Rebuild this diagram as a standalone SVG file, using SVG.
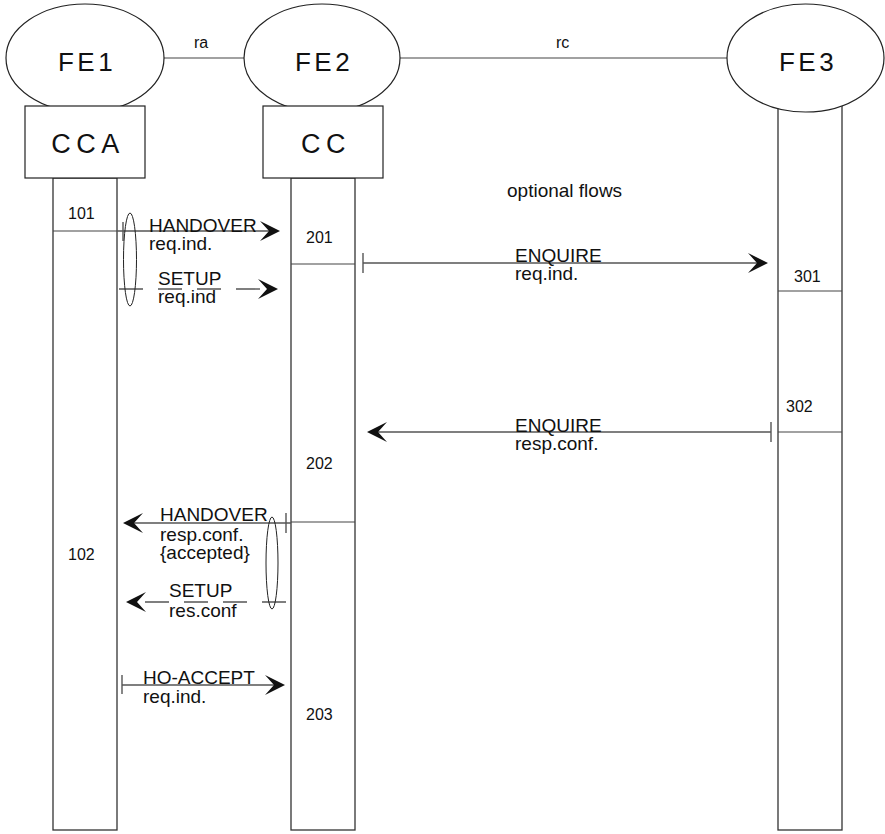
<svg xmlns="http://www.w3.org/2000/svg" xmlns:xlink="http://www.w3.org/1999/xlink" width="885" height="834" viewBox="0 0 885 834">
<style>
.bg{fill:#ffffff}
.ent{fill:#ffffff;stroke:#222;stroke-width:1.2}
.life{fill:#ffffff;stroke:#333;stroke-width:1.3}
.big{font-family:"Liberation Sans",Arial,sans-serif;font-size:26px;fill:#111;text-anchor:middle;letter-spacing:3.5px}
.box{font-family:"Liberation Sans",Arial,sans-serif;font-size:27px;fill:#111;text-anchor:middle;letter-spacing:5.5px}
.lbl{font-family:"Liberation Sans",Arial,sans-serif;font-size:19px;fill:#111}
.num{font-family:"Liberation Sans",Arial,sans-serif;font-size:16px;fill:#111}
.msg{stroke:#555;stroke-width:1.4;fill:none}
.dash{stroke:#555;stroke-width:1.4;fill:none;stroke-dasharray:24 15}
.tick{stroke:#555;stroke-width:1.4}
.evt{stroke:#444;stroke-width:1.2}
.grp{fill:none;stroke:#222;stroke-width:1}
.link{stroke:#444;stroke-width:1.2}
</style>
<defs>
<path id="ah" d="M0,0 L-20,-10 L-11,0 L-20,10 Z" fill="#111"/>
</defs>
<rect class="bg" x="0" y="0" width="885" height="834"/>

<g id="links">
<line class="link" x1="164" y1="58" x2="244" y2="58"/>
<line class="link" x1="400" y1="58" x2="727" y2="58"/>
<text class="num" x="194" y="48">ra</text>
<text class="num" x="556" y="48">rc</text>
</g>

<g id="FE1">
<rect class="life" x="53" y="178" width="64" height="652"/>
<ellipse class="ent" cx="85" cy="58" rx="79" ry="54"/>
<text class="big" x="87" y="71">FE1</text>
<rect class="ent" x="25" y="106" width="120" height="72"/>
<text class="box" x="88" y="153">CCA</text>
</g>

<g id="FE2">
<rect class="life" x="291" y="178" width="64" height="652"/>
<ellipse class="ent" cx="322" cy="58" rx="78" ry="54"/>
<text class="big" x="324" y="71">FE2</text>
<rect class="ent" x="263" y="106" width="120" height="72"/>
<text class="box" x="326" y="153">CC</text>
</g>

<g id="FE3">
<rect class="life" x="778" y="100" width="64" height="730"/>
<ellipse class="ent" cx="805.5" cy="58" rx="78.5" ry="54"/>
<text class="big" x="808" y="71">FE3</text>
</g>

<g id="events">
<line class="evt" x1="53" y1="231" x2="117" y2="231"/>
<text class="num" x="68" y="219">101</text>
<line class="evt" x1="291" y1="264" x2="355" y2="264"/>
<text class="num" x="306" y="243">201</text>
<line class="evt" x1="778" y1="291" x2="842" y2="291"/>
<text class="num" x="794" y="282">301</text>
<line class="evt" x1="778" y1="432" x2="842" y2="432"/>
<text class="num" x="786" y="412">302</text>
<line class="evt" x1="291" y1="522" x2="355" y2="522"/>
<text class="num" x="306" y="469">202</text>
<text class="num" x="68" y="560">102</text>
<text class="num" x="306" y="720">203</text>
<text class="lbl" x="507" y="197">optional flows</text>
</g>

<g id="connectors">
<line class="msg" x1="117" y1="231" x2="272" y2="231"/>
<line class="tick" x1="123" y1="222" x2="123" y2="241"/>
<use xlink:href="#ah" href="#ah" transform="translate(280,231)"/>
<text class="lbl" x="149" y="232">HANDOVER</text>
<text class="lbl" x="149" y="250">req.ind.</text>

<line class="dash" x1="119" y1="289" x2="270" y2="289"/>
<use xlink:href="#ah" href="#ah" transform="translate(278,289)"/>
<text class="lbl" x="158" y="285">SETUP</text>
<text class="lbl" x="158" y="303">req.ind</text>
<ellipse class="grp" cx="130" cy="259.5" rx="6.5" ry="46.5"/>

<line class="msg" x1="363" y1="263" x2="760" y2="263"/>
<line class="tick" x1="363" y1="253" x2="363" y2="273"/>
<use xlink:href="#ah" href="#ah" transform="translate(768,263)"/>
<text class="lbl" x="515" y="262">ENQUIRE</text>
<text class="lbl" x="515" y="280">req.ind.</text>

<line class="msg" x1="771" y1="432" x2="375" y2="432"/>
<line class="tick" x1="771" y1="422" x2="771" y2="442"/>
<use xlink:href="#ah" href="#ah" transform="translate(367,432) scale(-1,1)"/>
<text class="lbl" x="515" y="432">ENQUIRE</text>
<text class="lbl" x="515" y="450">resp.conf.</text>

<line class="msg" x1="291" y1="523" x2="131" y2="523"/>
<line class="tick" x1="286" y1="513" x2="286" y2="533"/>
<use xlink:href="#ah" href="#ah" transform="translate(123,523) scale(-1,1)"/>
<text class="lbl" x="160" y="521">HANDOVER</text>
<text class="lbl" x="160" y="541">resp.conf.</text>
<text class="lbl" x="160" y="559">{accepted}</text>

<line class="dash" x1="286" y1="602" x2="136" y2="602"/>
<use xlink:href="#ah" href="#ah" transform="translate(126,602) scale(-1,1)"/>
<text class="lbl" x="169" y="597">SETUP</text>
<text class="lbl" x="169" y="617">res.conf</text>
<ellipse class="grp" cx="272" cy="563" rx="6" ry="46"/>

<line class="msg" x1="122" y1="685" x2="277" y2="685"/>
<line class="tick" x1="122" y1="675" x2="122" y2="694"/>
<use xlink:href="#ah" href="#ah" transform="translate(285,685)"/>
<text class="lbl" x="143" y="684">HO-ACCEPT</text>
<text class="lbl" x="143" y="703">req.ind.</text>
</g>
</svg>
